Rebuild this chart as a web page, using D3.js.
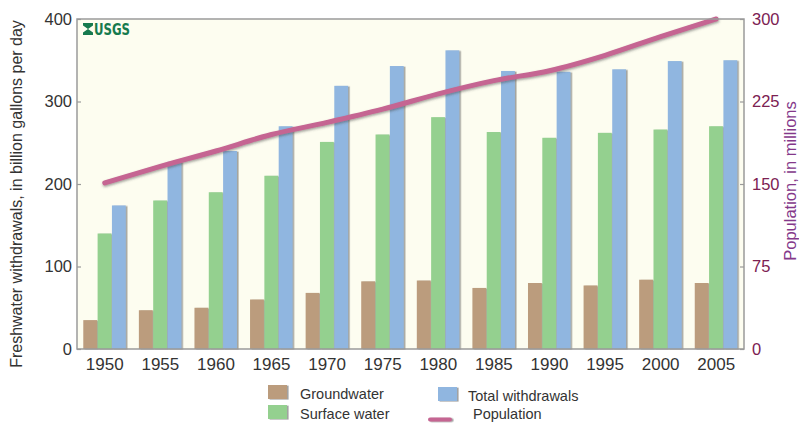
<!DOCTYPE html>
<html>
<head>
<meta charset="utf-8">
<script src="https://cdn.jsdelivr.net/npm/d3@7"></script>
<style>
  html, body { margin: 0; padding: 0; background: #ffffff; }
  svg { display: block; font-family: "Liberation Sans", Arial, sans-serif; }
</style>
</head>
<body>
<svg id="chart" width="799" height="423"></svg>
<script>
const years = ["1950","1955","1960","1965","1970","1975","1980","1985","1990","1995","2000","2005"];
const groundwater = [35, 47, 50, 60, 68, 82, 83, 74, 80, 77, 84, 80];
const surfaceWater = [140, 180, 190, 210, 251, 260, 281, 263, 256, 262, 266, 270];
const totalWithdrawals = [174, 227, 240, 270, 319, 343, 362, 337, 336, 339, 349, 350];
const population = [151, 166, 180, 195, 206, 218, 232, 244, 253, 267, 284, 300];
const leftTicks = [0, 100, 200, 300, 400];
const rightTicks = [0, 75, 150, 225, 300];
const seriesNames = ["Groundwater", "Surface water", "Total withdrawals"];
const seriesColors = ["#bb9c7d", "#94d08f", "#90b6e0"];
const popColor = "#c56592";

const svg = d3.select("#chart");
const L = 77, R = 744, T = 19, B = 349;
const FONT = "'Liberation Sans', Arial, sans-serif";

const defs = svg.append("defs");
const f = defs.append("filter").attr("id", "shadow").attr("x", "-20%").attr("y", "-20%").attr("width", "140%").attr("height", "140%");
f.append("feDropShadow").attr("dx", 1.6).attr("dy", 0.6).attr("stdDeviation", 0.7)
  .attr("flood-color", "#555").attr("flood-opacity", 0.55);
const f2 = defs.append("filter").attr("id", "lshadow").attr("filterUnits", "userSpaceOnUse")
  .attr("x", 0).attr("y", 0).attr("width", 799).attr("height", 423);
f2.append("feDropShadow").attr("dx", 0.5).attr("dy", 1.5).attr("stdDeviation", 0.9)
  .attr("flood-color", "#444").attr("flood-opacity", 0.5);

// plot background
svg.append("rect").attr("x", L).attr("y", T).attr("width", R - L).attr("height", B - T)
  .attr("fill", "#fdfdf0");

const x = d3.scaleBand().domain(years).range([L, R]).paddingInner(0.227).paddingOuter(0.113);
const xs = d3.scaleBand().domain(seriesNames).range([0, x.bandwidth()]).padding(0);
const y = d3.scaleLinear().domain([0, 400]).range([B, T]);
const y2 = d3.scaleLinear().domain([0, 300]).range([B, T]);

const seriesData = [groundwater, surfaceWater, totalWithdrawals];

// bars
const groups = svg.append("g").selectAll("g").data(years).join("g")
  .attr("transform", d => `translate(${x(d)},0)`);
groups.selectAll("rect")
  .data((d, i) => seriesNames.map((s, k) => ({ s, k, v: seriesData[k][i] })))
  .join("rect")
  .attr("x", d => xs(d.s))
  .attr("y", d => y(d.v))
  .attr("width", xs.bandwidth() - 0.5)
  .attr("height", d => B - y(d.v))
  .attr("fill", d => seriesColors[d.k])
  .attr("filter", "url(#shadow)");

// population line
const line = d3.line()
  .x((d, i) => x(years[i]) + x.bandwidth() / 2)
  .y(d => y2(d))
  .curve(d3.curveMonotoneX);
svg.append("path").datum(population)
  .attr("d", line)
  .attr("fill", "none")
  .attr("stroke", popColor)
  .attr("stroke-width", 5)
  .attr("stroke-linecap", "round")
  .attr("filter", "url(#lshadow)");

// frame
svg.append("rect").attr("x", L).attr("y", T).attr("width", R - L).attr("height", B - T)
  .attr("fill", "none").attr("stroke", "#9a9a9a").attr("stroke-width", 1.5);

// left axis
const yAxis = d3.axisLeft(y).tickValues(leftTicks).tickSize(-4).tickPadding(5).tickFormat(d3.format("d"));
const gy = svg.append("g").attr("transform", `translate(${L},0)`).call(yAxis);
gy.select(".domain").remove();
gy.selectAll(".tick line").attr("stroke", "#9a9a9a").attr("stroke-width", 1.2);
gy.selectAll(".tick text").attr("fill", "#333").attr("font-size", 16.5).attr("font-family", FONT);

// right axis
const y2Axis = d3.axisRight(y2).tickValues(rightTicks).tickSize(-4).tickPadding(8).tickFormat(d3.format("d"));
const gy2 = svg.append("g").attr("transform", `translate(${R},0)`).call(y2Axis);
gy2.select(".domain").remove();
gy2.selectAll(".tick line").attr("stroke", "#9a9a9a").attr("stroke-width", 1.2);
gy2.selectAll(".tick text").attr("fill", "#7c2152").attr("font-size", 16.5).attr("font-family", FONT);

// x axis
const xAxis = d3.axisBottom(x).tickSize(0).tickPadding(9);
const gx = svg.append("g").attr("transform", `translate(0,${B})`).call(xAxis);
gx.select(".domain").remove();
gx.selectAll(".tick text").attr("fill", "#333").attr("font-size", 17).attr("font-family", FONT);

// axis titles
svg.append("text")
  .attr("transform", `translate(22,194) rotate(-90)`)
  .attr("text-anchor", "middle")
  .attr("font-size", 16).attr("fill", "#333").attr("font-family", FONT)
  .text("Freshwater withdrawals, in billion gallons per day");
svg.append("text")
  .attr("transform", `translate(796,181) rotate(-90)`)
  .attr("text-anchor", "middle")
  .attr("font-size", 16.5).attr("fill", "#84388a").attr("font-family", FONT)
  .text("Population, in millions");

// USGS logo
const logo = svg.append("g").attr("transform", "translate(83,23)");
logo.append("path")
  .attr("d", "M0,0 L10,0 L10,2.5 L5,6 L10,9.5 L10,12 L0,12 L0,9.5 L5,6 L0,2.5 Z")
  .attr("fill", "#167a4e");
logo.append("text").attr("x", 11).attr("y", 12)
  .attr("font-family", "'Liberation Sans Narrow', 'DejaVu Sans Condensed', Arial, sans-serif")
  .attr("font-weight", "bold").attr("font-size", 15).attr("fill", "#167a4e")
  .attr("textLength", 36).attr("lengthAdjust", "spacingAndGlyphs")
  .text("USGS");

// legend
const legend = svg.append("g").attr("font-size", 14.5).attr("fill", "#333").attr("font-family", FONT);
const legItems = [
  { name: "Groundwater", k: 0, x: 268, y: 385, tx: 300, ty: 399 },
  { name: "Surface water", k: 1, x: 268, y: 405, tx: 300, ty: 419 },
  { name: "Total withdrawals", k: 2, x: 438, y: 387, tx: 468, ty: 401 }
];
legItems.forEach(it => {
  legend.append("rect").attr("x", it.x).attr("y", it.y).attr("width", 19).attr("height", 14)
    .attr("fill", seriesColors[it.k]).attr("filter", "url(#shadow)");
  legend.append("text").attr("x", it.tx).attr("y", it.ty).attr("fill", "#333").text(it.name);
});
legend.append("rect").attr("x", 428).attr("y", 417.5).attr("width", 24).attr("height", 4).attr("rx", 2)
  .attr("fill", popColor).attr("filter", "url(#shadow)");
legend.append("text").attr("x", 473).attr("y", 419).attr("fill", "#333").text("Population");
</script>
</body>
</html>
